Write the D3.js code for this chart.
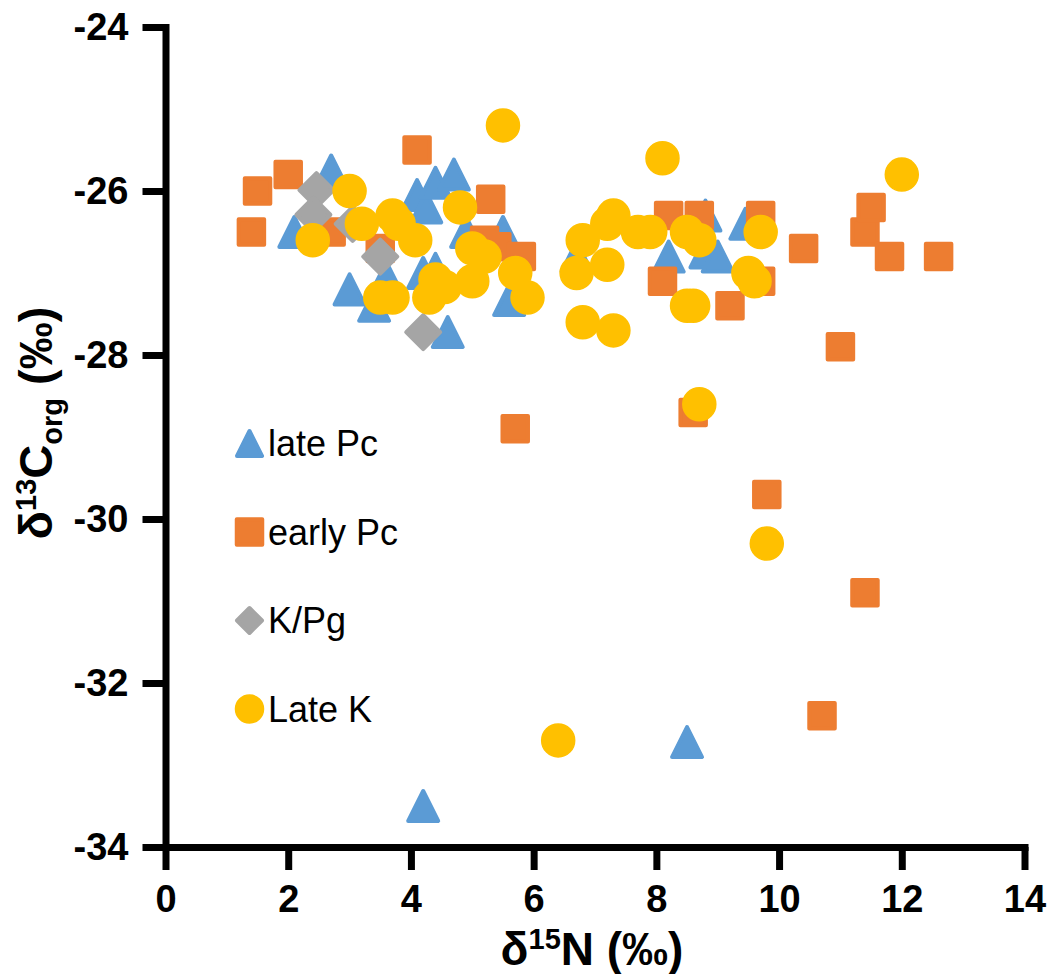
<!DOCTYPE html>
<html lang="en">
<head>
  <meta charset="UTF-8" />
  <title>δ13Corg vs δ15N</title>
  <script src="https://d3js.org/d3.v7.min.js"></script>
  <style>
    body { margin: 0; background: #fff; }
    svg { display: block; font-family: "Liberation Sans", Arial, sans-serif; }
  </style>
</head>
<body>
  <svg id="chart" width="1053" height="974"></svg>

  <script>
    // [δ15N, δ13Corg] pairs
    const latePc = [
      [2.7, -25.75], [2.1, -26.5], [3.0, -27.2], [3.4, -27.4], [3.6, -27.05],
      [4.1, -26.05], [4.25, -26.2], [4.4, -25.9], [4.7, -25.8], [4.2, -27.0],
      [4.4, -26.95], [4.9, -26.5], [4.6, -27.72], [5.5, -26.5], [5.6, -27.33],
      [6.7, -26.8], [8.2, -26.8], [8.8, -26.3], [8.8, -26.75], [9.0, -26.8],
      [9.45, -26.4], [8.5, -32.72], [4.2, -33.5]
    ];
    const earlyPc = [
      [1.4, -26.5], [1.5, -26.0], [2.0, -25.8], [2.7, -26.5], [3.5, -26.7],
      [4.1, -25.5], [5.3, -26.1], [5.2, -26.6], [5.4, -26.68], [5.8, -26.8],
      [5.7, -28.9], [8.2, -26.3], [8.7, -26.3], [8.1, -27.1], [8.6, -28.7],
      [9.7, -26.3], [9.7, -27.1], [9.2, -27.4], [9.8, -29.7], [10.4, -26.7],
      [11.0, -27.9], [11.4, -26.5], [11.5, -26.2], [11.8, -26.8], [12.6, -26.8],
      [11.4, -30.9], [10.7, -32.4]
    ];
    const kpg = [
      [2.46, -25.99], [2.41, -26.29], [3.05, -26.4], [3.5, -26.8], [4.2, -27.72]
    ];
    const lateK = [
      [2.4, -26.6], [3.0, -26.0], [3.2, -26.4], [3.7, -26.3], [3.8, -26.4],
      [4.07, -26.6], [3.5, -27.3], [3.7, -27.3], [4.4, -27.08], [4.3, -27.3],
      [4.55, -27.17], [4.8, -26.2], [5.0, -26.7], [5.2, -26.8], [5.0, -27.1],
      [5.7, -27.0], [5.9, -27.3], [5.5, -25.2], [6.8, -26.6], [6.7, -27.0],
      [6.8, -27.6], [7.2, -26.9], [7.2, -26.4], [7.3, -26.3], [7.3, -27.7],
      [7.7, -26.5], [7.9, -26.5], [8.1, -25.6], [8.5, -26.5], [8.7, -26.6],
      [8.5, -27.4], [8.6, -27.4], [9.5, -27.0], [9.6, -27.1], [9.7, -26.5],
      [12.0, -25.8], [8.7, -28.6], [9.8, -30.3], [6.4, -32.7]
    ];

    const seriesNames = ["late Pc", "early Pc", "K/Pg", "Late K"];
    const xTicks = [0, 2, 4, 6, 8, 10, 12, 14];
    const yTicks = [-34, -32, -30, -28, -26, -24];

    const svg = d3.select("#chart");

    const x = d3.scaleLinear().domain([0, 14]).range([165.5, 1024.5]);
    const y = d3.scaleLinear().domain([-34, -24]).range([847, 27]);

    // marker paths (drawn with a round-joined stroke of the same colour)
    const shapes = {
      triangle: s => `M0,${-s / 2}L${s / 2},${s / 2}L${-s / 2},${s / 2}Z`,
      square: s => `M${-s / 2},${-s / 2}H${s / 2}V${s / 2}H${-s / 2}Z`,
      diamond: s => `M0,${-s / 2}L${s / 2},0L0,${s / 2}L${-s / 2},0Z`,
      circle: s => d3.arc()({ innerRadius: 0, outerRadius: s / 2, startAngle: 0, endAngle: 2 * Math.PI })
    };

    const series = [
      { name: seriesNames[0], data: latePc,  color: "#5B9BD5", shape: "triangle", size: 30, legendSize: 25 },
      { name: seriesNames[1], data: earlyPc, color: "#ED7D31", shape: "square",   size: 25.5, legendSize: 25.5 },
      { name: seriesNames[2], data: kpg,     color: "#A5A5A5", shape: "diamond",  size: 34, legendSize: 25 },
      { name: seriesNames[3], data: lateK,   color: "#FFC000", shape: "circle",   size: 33, legendSize: 28 }
    ];

    // Axes (plain hyphen minus, as in the figure)
    const xAxis = svg.append("g")
      .attr("transform", `translate(0,${y(-34)})`)
      .call(d3.axisBottom(x).tickValues(xTicks).tickFormat(d => String(d))
        .tickSize(23).tickSizeOuter(0).tickPadding(15));

    const yAxis = svg.append("g")
      .attr("transform", `translate(${x(0)},0)`)
      .call(d3.axisLeft(y).tickValues(yTicks).tickFormat(d => String(d))
        .tickSize(23).tickSizeOuter(0).tickPadding(14));

    [xAxis, yAxis].forEach(g => {
      g.attr("font-family", null).attr("font-size", null);
      g.select(".domain").attr("stroke", "#000").attr("stroke-width", 7).attr("stroke-linecap", "square");
      g.selectAll(".tick line").attr("stroke", "#000").attr("stroke-width", 7);
      g.selectAll(".tick text")
        .attr("fill", "#000")
        .attr("font-size", 38)
        .attr("font-weight", "bold");
    });

    // Points
    series.forEach(s => {
      svg.append("g")
        .selectAll("path")
        .data(s.data)
        .join("path")
        .attr("transform", d => `translate(${x(d[0])},${y(d[1])})`)
        .attr("d", shapes[s.shape](s.size))
        .attr("fill", s.color)
        .attr("stroke", s.color)
        .attr("stroke-width", s.shape === "circle" ? 1.5 : 4)
        .attr("stroke-linejoin", "round");
    });

    // Legend
    const legend = svg.append("g").attr("transform", "translate(249.5,443.5)");
    const rowGap = 88.5;
    series.forEach((s, i) => {
      const row = legend.append("g").attr("transform", `translate(0,${i * rowGap})`);
      row.append("path")
        .attr("d", shapes[s.shape](s.legendSize))
        .attr("fill", s.color)
        .attr("stroke", s.color)
        .attr("stroke-width", s.shape === "circle" ? 1.5 : 4)
        .attr("stroke-linejoin", "round");
      row.append("text")
        .attr("x", 18.5)
        .attr("y", 12.5)
        .attr("font-size", 36)
        .attr("fill", "#000")
        .text(s.name);
    });

    // Axis titles
    const xTitle = svg.append("text")
      .attr("x", 592)
      .attr("y", 965)
      .attr("text-anchor", "middle")
      .attr("font-size", 46)
      .attr("font-weight", "bold");
    xTitle.append("tspan").text("δ");
    xTitle.append("tspan").attr("font-size", 29).attr("dy", -16).text("15");
    xTitle.append("tspan").attr("dy", 16).text("N (‰)");

    const yTitle = svg.append("text")
      .attr("transform", "translate(52,423) rotate(-90)")
      .attr("text-anchor", "middle")
      .attr("font-size", 47)
      .attr("font-weight", "bold");
    yTitle.append("tspan").text("δ");
    yTitle.append("tspan").attr("font-size", 29).attr("dy", -16).text("13");
    yTitle.append("tspan").attr("dy", 16).text("C");
    yTitle.append("tspan").attr("font-size", 29).attr("dy", 10).text("org");
    yTitle.append("tspan").attr("dy", -10).text(" (‰)");
  </script>
</body>
</html>
